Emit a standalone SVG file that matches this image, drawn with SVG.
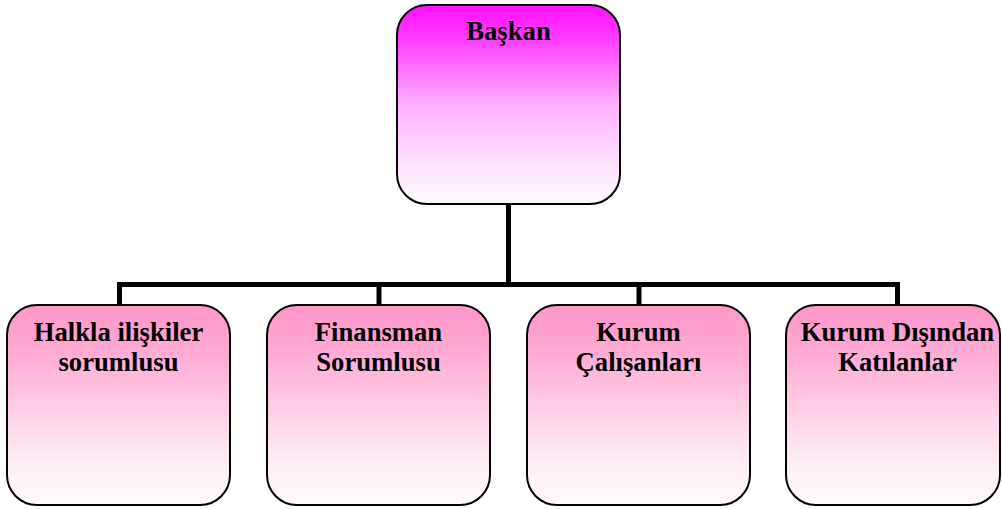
<svg xmlns="http://www.w3.org/2000/svg" width="1002" height="509" viewBox="0 0 1002 509">
  <defs>
    <linearGradient id="gradHead" x1="0" y1="0" x2="0" y2="1">
      <stop offset="0" stop-color="#ff10ff"/>
      <stop offset="0.18" stop-color="#ff40ff"/>
      <stop offset="0.5" stop-color="#ffb0ff"/>
      <stop offset="0.8" stop-color="#ffe2ff"/>
      <stop offset="1" stop-color="#fffaff"/>
    </linearGradient>
    <linearGradient id="gradMember" x1="0" y1="0" x2="0" y2="1">
      <stop offset="0" stop-color="#ff96c9"/>
      <stop offset="0.2" stop-color="#ffa6d2"/>
      <stop offset="0.5" stop-color="#ffcce5"/>
      <stop offset="0.8" stop-color="#ffeef6"/>
      <stop offset="1" stop-color="#fffbfd"/>
    </linearGradient>
  </defs>
  <style>
    .box { stroke: #000; stroke-width: 2; }
    .head { fill: url(#gradHead); }
    .member { fill: url(#gradMember); }
    .label { font-family: "Liberation Serif", "Times New Roman", serif; font-weight: bold; font-size: 26.67px; fill: #000; text-anchor: middle; }
    .wire { fill: none; stroke: #000; stroke-width: 5; stroke-linejoin: miter; }
  </style>

  <rect width="1002" height="509" fill="#fff"/>

  <!-- connectors -->
  <g id="connectors">
    <line class="wire" x1="508.5" y1="204" x2="508.5" y2="284.5"/>
    <polyline class="wire" points="119.5,305 119.5,284.5 897.5,284.5 897.5,305"/>
    <line class="wire" x1="379" y1="284.5" x2="379" y2="305"/>
    <line class="wire" x1="639" y1="284.5" x2="639" y2="305"/>
  </g>

  <g id="baskan">
    <rect class="box head" x="397" y="5" width="223" height="199" rx="30" ry="30"/>
    <text class="label" x="508.5" y="40">Başkan</text>
  </g>

  <g id="halkla-iliskiler">
    <rect class="box member" x="7" y="305" width="223" height="200" rx="30" ry="30"/>
    <text class="label" x="118.5" y="341">Halkla ilişkiler</text>
    <text class="label" x="118.5" y="371">sorumlusu</text>
  </g>

  <g id="finansman">
    <rect class="box member" x="267" y="305" width="223" height="200" rx="30" ry="30"/>
    <text class="label" x="378.5" y="341">Finansman</text>
    <text class="label" x="378.5" y="371">Sorumlusu</text>
  </g>

  <g id="kurum-calisanlari">
    <rect class="box member" x="527" y="305" width="223" height="200" rx="30" ry="30"/>
    <text class="label" x="638.5" y="341">Kurum</text>
    <text class="label" x="638.5" y="371">Çalışanları</text>
  </g>

  <g id="kurum-disindan">
    <rect class="box member" x="786" y="305" width="214" height="200" rx="30" ry="30"/>
    <text class="label" x="897.5" y="341">Kurum Dışından</text>
    <text class="label" x="897.5" y="371">Katılanlar</text>
  </g>
</svg>
